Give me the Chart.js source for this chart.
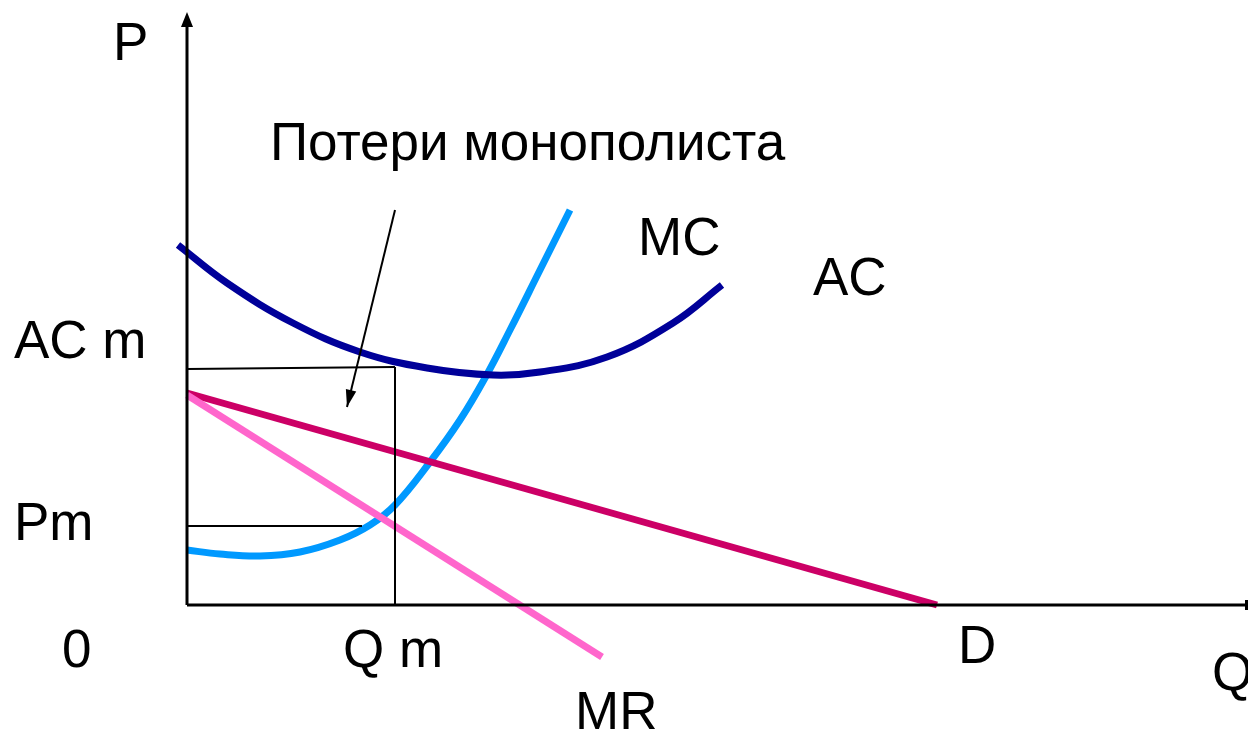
<!DOCTYPE html>
<html>
<head>
<meta charset="utf-8">
<script src="https://cdn.jsdelivr.net/npm/chart.js@4"></script>
<style>
  body { margin: 0; background: #ffffff; }
  canvas { display: block; }
</style>
</head>
<body>
<canvas id="monopolyCanvas" width="1248" height="731"></canvas>
<script>
// curves (Q, P in arbitrary units)
const acQ = [-0.9, 4.0, 10.6, 17.3, 24.0, 30.6, 35.3, 42.0, 48.6, 53.5];
const acP = [36.0, 32.2, 28.2, 25.3, 23.7, 23.0, 23.3, 24.8, 28.2, 32.0];

const mcQ = [0, 3.3, 7.3, 11.3, 15.3, 18.3, 20.8, 24.3, 27.3, 29.8, 32.3, 35.3, 38.3];
const mcP = [5.5, 5.1, 4.9, 5.3, 6.5, 8.0, 10.0, 14.3, 18.5, 22.7, 27.5, 33.5, 39.5];

const demandQ = [0, 75.0];
const demandP = [21.2, 0];

const mrQ = [0, 41.5];
const mrP = [21.0, -5.2];

// monopoly output and price levels
const qm = 20.8;
const acm = [23.6, 23.8];
const pm = 7.9;
const pmLineEnd = 17.5;

// axes extents
const qAxisEnd = 105.9;
const pAxisEnd = 59.3;

// "losses" pointer arrow
const lossArrowQ = [20.8, 16.0];
const lossArrowP = [39.5, 19.8];

// text labels
const labelTexts = ['P', 'Потери монополиста', 'MC', 'AC', 'AC m', 'Pm', '0', 'Q m', 'D', 'Q', 'MR'];
const labelQ = [-7.4, 8.3, 45.1, 62.6, -17.3, -17.3, -12.5, 15.6, 77.1, 102.5, 38.8];
const labelP = [54.5, 44.5, 35.0, 31.0, 24.7, 6.5, -6.2, -6.2, -5.8, -8.5, -12.4];

function toPoints(xs, ys) {
    return xs.map((x, i) => ({ x: x, y: ys[i] }));
}

const extrasPlugin = {
    id: 'extras',
    afterDatasetsDraw(chart) {
        const c = chart.ctx;
        const xs = chart.scales.x;
        const ys = chart.scales.y;
        const px = v => xs.getPixelForValue(v);
        const py = v => ys.getPixelForValue(v);

        c.save();
        // y axis arrowhead
        const tipX = px(0), tipY = py(pAxisEnd);
        c.fillStyle = '#000';
        c.beginPath();
        c.moveTo(tipX, tipY);
        c.lineTo(tipX - 6, tipY + 15);
        c.lineTo(tipX + 6, tipY + 15);
        c.closePath();
        c.fill();
        // x axis end tick
        c.fillRect(px(qAxisEnd) - 1, py(0) - 5, 3, 10);

        // loss pointer arrow
        const x1 = px(lossArrowQ[0]), y1 = py(lossArrowP[0]);
        const x2 = px(lossArrowQ[1]), y2 = py(lossArrowP[1]);
        c.strokeStyle = '#000';
        c.lineWidth = 2;
        c.beginPath();
        c.moveTo(x1, y1);
        c.lineTo(x2, y2);
        c.stroke();
        const ang = Math.atan2(y2 - y1, x2 - x1);
        c.beginPath();
        c.moveTo(x2, y2);
        c.lineTo(x2 - 18 * Math.cos(ang - 0.3), y2 - 18 * Math.sin(ang - 0.3));
        c.lineTo(x2 - 18 * Math.cos(ang + 0.3), y2 - 18 * Math.sin(ang + 0.3));
        c.closePath();
        c.fill();

        // labels
        c.font = '53px "Liberation Sans", Arial, sans-serif';
        c.textBaseline = 'alphabetic';
        c.textAlign = 'left';
        labelTexts.forEach((t, i) => {
            c.fillText(t, px(labelQ[i]), py(labelP[i]));
        });
        c.restore();
    }
};

const ctx = document.getElementById('monopolyCanvas').getContext('2d');

const axisStyle = { borderColor: '#000000', borderWidth: 3, pointRadius: 0, showLine: true, tension: 0 };
const guideStyle = { borderColor: '#000000', borderWidth: 2, pointRadius: 0, showLine: true, tension: 0 };

new Chart(ctx, {
    type: 'scatter',
    data: {
        datasets: [
            Object.assign({ label: 'Q axis', data: toPoints([0, qAxisEnd], [0, 0]) }, axisStyle),
            Object.assign({ label: 'P axis', data: toPoints([0, 0], [0, pAxisEnd - 1]) }, axisStyle),
            Object.assign({ label: 'ACm', data: toPoints([0, qm], acm) }, guideStyle),
            Object.assign({ label: 'Qm', data: toPoints([qm, qm], [acm[1], 0]) }, guideStyle),
            Object.assign({ label: 'Pm', data: toPoints([0, pmLineEnd], [pm, pm]) }, guideStyle),
            {
                label: 'MR',
                data: toPoints(mrQ, mrP),
                borderColor: '#FF66CC',
                borderWidth: 7,
                pointRadius: 0,
                showLine: true
            },
            {
                label: 'D',
                data: toPoints(demandQ, demandP),
                borderColor: '#CC0066',
                borderWidth: 7,
                pointRadius: 0,
                showLine: true
            },
            {
                label: 'AC',
                data: toPoints(acQ, acP),
                borderColor: '#000099',
                borderWidth: 7,
                pointRadius: 0,
                showLine: true,
                tension: 0.4
            },
            {
                label: 'MC',
                data: toPoints(mcQ, mcP),
                borderColor: '#0099FF',
                borderWidth: 7,
                pointRadius: 0,
                showLine: true,
                tension: 0.4
            }
        ]
    },
    options: {
        responsive: false,
        animation: false,
        devicePixelRatio: 1,
        layout: { padding: 0 },
        scales: {
            x: { type: 'linear', min: -18.7, max: 106.1, display: false },
            y: { type: 'linear', min: -12.6, max: 60.5, display: false }
        },
        plugins: {
            legend: { display: false },
            tooltip: { enabled: false }
        }
    },
    plugins: [extrasPlugin]
});
</script>
</body>
</html>
